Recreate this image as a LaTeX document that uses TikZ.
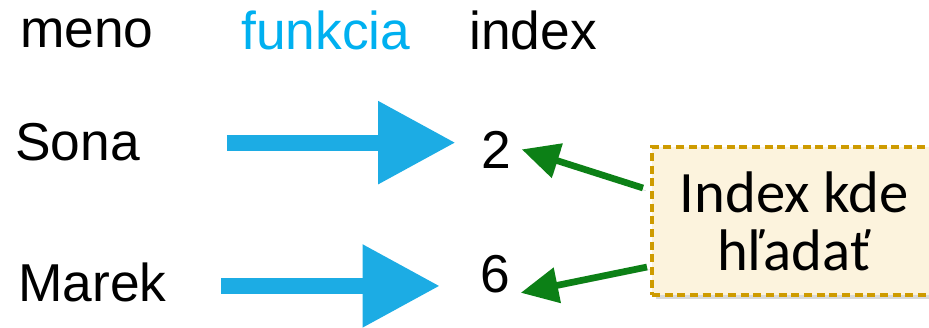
\documentclass[tikz,border=0pt]{standalone}
\usepackage{fontspec}
\setmainfont{Liberation Sans}
\newfontfamily\notefont{Carlito}
\usetikzlibrary{arrows.meta, calc, positioning, shadows}

\definecolor{funccyan}{RGB}{0,176,240}
\definecolor{pipeblue}{RGB}{28,172,228}
\definecolor{pointgreen}{RGB}{12,128,22}
\definecolor{notefill}{RGB}{252,243,221}
\definecolor{noteedge}{RGB}{206,155,0}

\begin{document}
\begin{tikzpicture}[x=0.75pt, y=-0.75pt]
	\tikzstyle{word} = [inner sep=0pt, anchor=base west, font=\fontsize{40}{48}\selectfont]
	\tikzstyle{digit} = [inner xsep=8pt, inner ysep=0pt, anchor=base, font=\fontsize{40}{48}\selectfont]
	\tikzstyle{pipe} = [pipeblue, line width=12pt, -{Triangle[length=58pt, width=59pt]},
		preaction={draw=black, opacity=0.2, transform canvas={shift={(2pt,-3pt)}}}]
	\tikzstyle{pointer} = [pointgreen, line width=5pt, -{Triangle[length=28pt, width=26pt]},
		preaction={draw=black, opacity=0.2, transform canvas={shift={(2pt,-2pt)}}}]
	\tikzstyle{note} = [draw=noteedge, fill=notefill, line width=2.8pt, dash pattern=on 6pt off 3.5pt,
		minimum width=213pt, minimum height=111pt, outer sep=0pt, align=center,
		font=\notefont\fontsize{44}{43.5}\selectfont,
		drop shadow={opacity=0.3, shadow xshift=3pt, shadow yshift=-3pt}]

	\useasboundingbox (0,0) rectangle (929,328);

	\path
		node[word] (meno) at (20,48) {meno}
		node[word, text=funccyan] (funkcia) at (241,50) {funkcia}
		node[word] (index) at (469,50) {index}

		node[word] (sona) at (15,161) {Sona}
		node[word] (marek) at (18,301) {Marek}

		node[digit] (two) at (496,168) {2}
		node[digit] (six) at (495,292) {6}

		node[note] (hint) at (794,221) {Index kde\\hľadať}
	;

	% modre sipky: meno -> index
	\draw[pipe, shorten <=65pt, shorten >=11pt] (sona.east) -- (sona.east -| two.west);
	\draw[pipe, shorten <=41pt, shorten >=22pt] ([yshift=-3pt]marek.east) -- ([yshift=-3pt]marek.east -| six.west);

	% zelene sipky z poznamky
	\draw[pointer] ($(hint.west)+(-9,-33)$) -- (two.east);
	\draw[pointer] ($(hint.west)+(-5,46)$) -- (six.south east);
\end{tikzpicture}
\end{document}
